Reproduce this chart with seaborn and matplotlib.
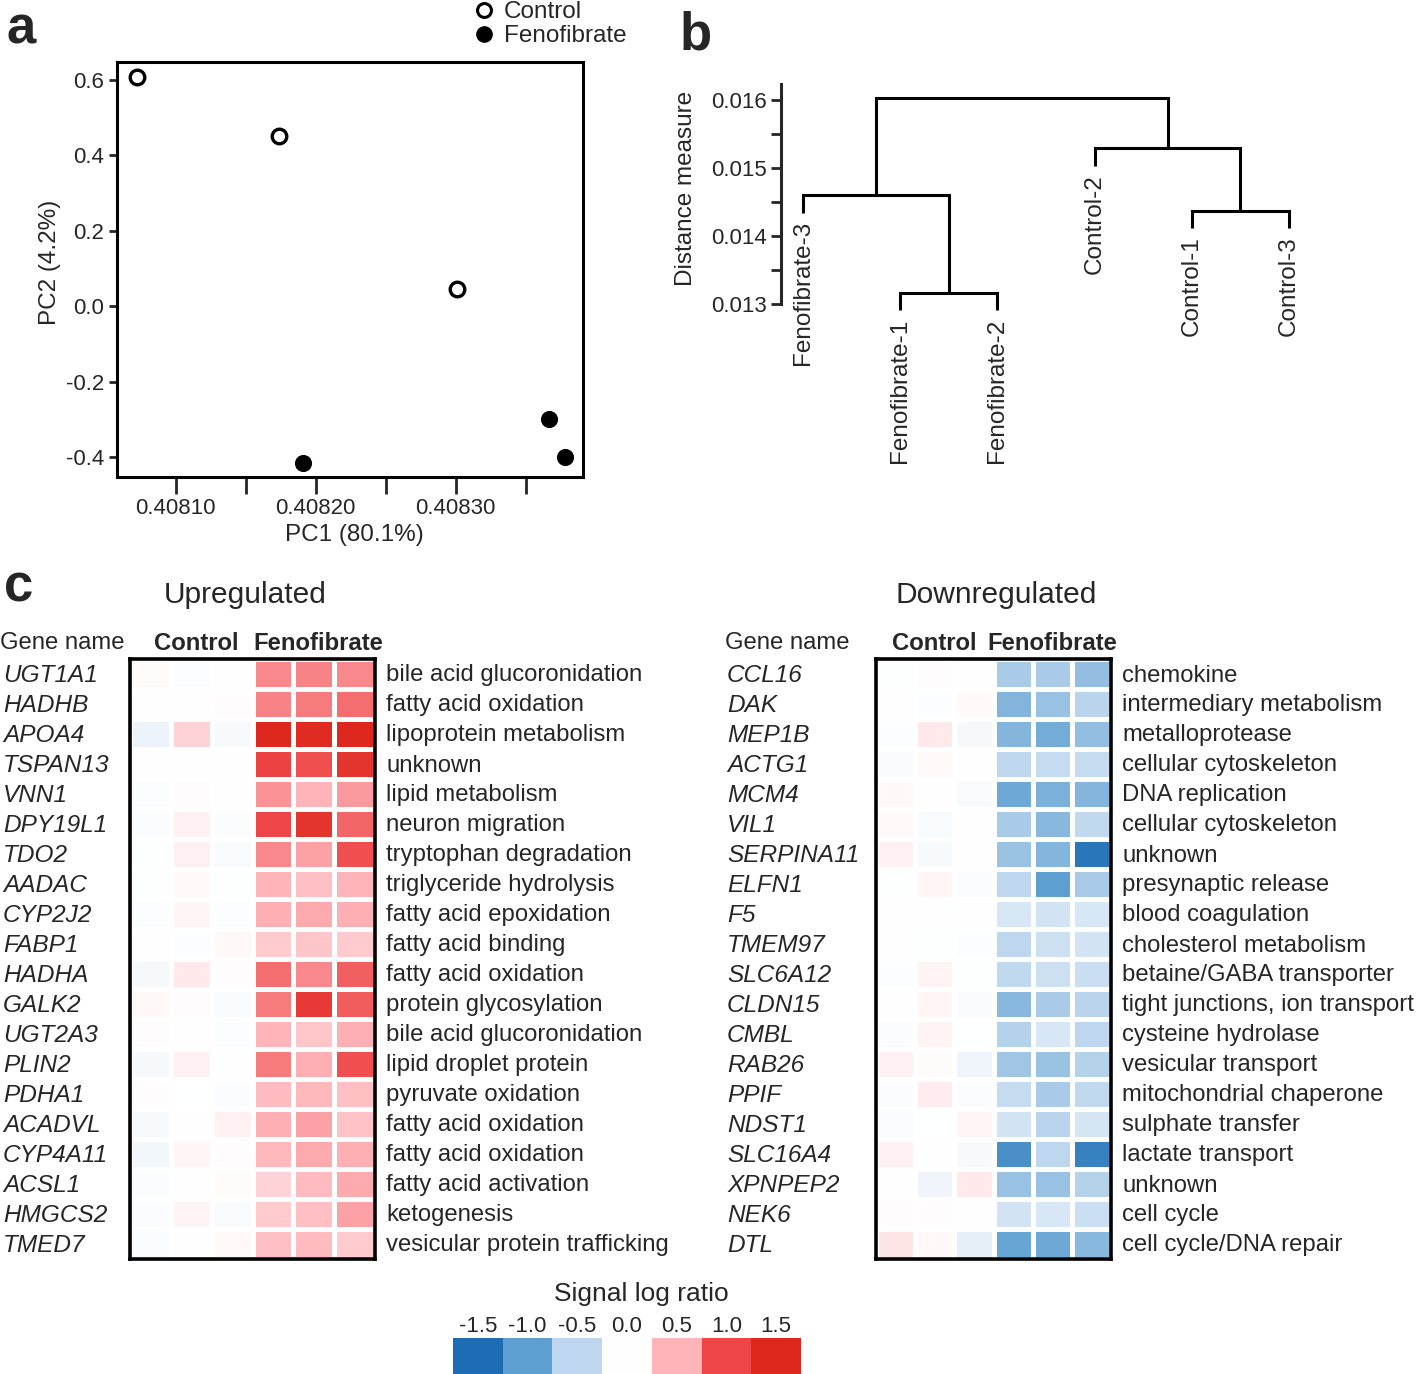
import numpy as np
import pandas as pd
import seaborn as sns
import matplotlib.pyplot as plt
import matplotlib.transforms as mtransforms
from matplotlib.colors import LinearSegmentedColormap
from matplotlib.lines import Line2D

sns.set_style("ticks")
plt.rcParams['font.family'] = ['Liberation Sans', 'DejaVu Sans']

W, H = 1416, 1374

# --- panel a: PCA ---
pc1_control = [0.408072, 0.408174, 0.408301]
pc2_control = [0.608, 0.451, 0.046]
pc1_feno = [0.408191, 0.408367, 0.408378]
pc2_feno = [-0.416, -0.299, -0.400]

# --- panel b: dendrogram ---
leaf_labels = ["Fenofibrate-3", "Fenofibrate-1", "Fenofibrate-2",
               "Control-2", "Control-1", "Control-3"]
# merges like a linkage table: node ids 0..5 are leaves, 6.. new clusters
merge_left = [1, 0, 4, 3, 7]
merge_right = [2, 6, 5, 8, 9]
merge_height = [0.013162, 0.014603, 0.014368, 0.015294, 0.016029]

# --- panel c: heatmaps ---
sample_cols = ["C1", "C2", "C3", "F1", "F2", "F3"]

up_genes = ["UGT1A1", "HADHB", "APOA4", "TSPAN13", "VNN1", "DPY19L1", "TDO2",
            "AADAC", "CYP2J2", "FABP1", "HADHA", "GALK2", "UGT2A3", "PLIN2",
            "PDHA1", "ACADVL", "CYP4A11", "ACSL1", "HMGCS2", "TMED7"]
up_function = ["bile acid glucoronidation", "fatty acid oxidation",
               "lipoprotein metabolism", "unknown", "lipid metabolism",
               "neuron migration", "tryptophan degradation",
               "triglyceride hydrolysis", "fatty acid epoxidation",
               "fatty acid binding", "fatty acid oxidation",
               "protein glycosylation", "bile acid glucoronidation",
               "lipid droplet protein", "pyruvate oxidation",
               "fatty acid oxidation", "fatty acid oxidation",
               "fatty acid activation", "ketogenesis",
               "vesicular protein trafficking"]
up_values = [
    [0.03, -0.03, 0.00, 0.70, 0.72, 0.70],
    [0.00, 0.00, 0.02, 0.72, 0.75, 0.82],
    [-0.15, 0.30, -0.06, 1.50, 1.45, 1.50],
    [0.01, 0.00, 0.00, 1.05, 0.95, 1.30],
    [-0.03, 0.02, 0.00, 0.65, 0.50, 0.62],
    [-0.04, 0.10, -0.04, 1.00, 1.30, 0.85],
    [-0.02, 0.10, -0.05, 0.70, 0.58, 0.95],
    [-0.02, 0.04, -0.02, 0.50, 0.42, 0.50],
    [-0.03, 0.06, -0.03, 0.52, 0.55, 0.52],
    [0.00, -0.03, 0.05, 0.35, 0.38, 0.35],
    [-0.08, 0.15, 0.02, 0.82, 0.70, 0.88],
    [0.05, 0.02, -0.05, 0.75, 1.20, 0.90],
    [0.02, 0.00, -0.03, 0.50, 0.38, 0.52],
    [-0.08, 0.10, 0.01, 0.75, 0.52, 0.95],
    [0.02, -0.01, -0.04, 0.45, 0.47, 0.43],
    [-0.06, 0.00, 0.10, 0.52, 0.58, 0.40],
    [-0.10, 0.07, 0.02, 0.47, 0.55, 0.52],
    [-0.04, 0.01, 0.03, 0.30, 0.45, 0.55],
    [-0.04, 0.08, -0.05, 0.35, 0.43, 0.58],
    [-0.04, 0.00, 0.04, 0.42, 0.45, 0.35],
]

down_genes = ["CCL16", "DAK", "MEP1B", "ACTG1", "MCM4", "VIL1", "SERPINA11",
              "ELFN1", "F5", "TMEM97", "SLC6A12", "CLDN15", "CMBL", "RAB26",
              "PPIF", "NDST1", "SLC16A4", "XPNPEP2", "NEK6", "DTL"]
down_function = ["chemokine", "intermediary metabolism", "metalloprotease",
                 "cellular cytoskeleton", "DNA replication",
                 "cellular cytoskeleton", "unknown", "presynaptic release",
                 "blood coagulation", "cholesterol metabolism",
                 "betaine/GABA transporter", "tight junctions, ion transport",
                 "cysteine hydrolase", "vesicular transport",
                 "mitochondrial chaperone", "sulphate transfer",
                 "lactate transport", "unknown", "cell cycle",
                 "cell cycle/DNA repair"]
down_values = [
    [-0.02, 0.02, 0.00, -0.60, -0.60, -0.72],
    [0.00, -0.03, 0.04, -0.82, -0.70, -0.52],
    [-0.03, 0.15, -0.08, -0.80, -0.88, -0.72],
    [-0.05, 0.04, 0.00, -0.50, -0.45, -0.45],
    [0.05, 0.00, -0.05, -0.92, -0.85, -0.80],
    [0.04, -0.05, 0.00, -0.60, -0.78, -0.48],
    [0.10, -0.07, 0.00, -0.68, -0.80, -1.40],
    [-0.02, 0.06, -0.04, -0.50, -1.00, -0.62],
    [0.00, 0.00, 0.00, -0.30, -0.35, -0.30],
    [0.00, -0.02, -0.03, -0.50, -0.38, -0.35],
    [-0.03, 0.08, -0.02, -0.48, -0.38, -0.42],
    [0.00, 0.07, -0.05, -0.78, -0.60, -0.52],
    [-0.04, 0.08, -0.01, -0.55, -0.30, -0.50],
    [0.10, 0.03, -0.12, -0.65, -0.68, -0.55],
    [-0.04, 0.12, -0.04, -0.45, -0.60, -0.48],
    [-0.04, -0.01, 0.06, -0.35, -0.52, -0.32],
    [0.10, 0.00, -0.07, -1.15, -0.50, -1.30],
    [0.00, -0.12, 0.15, -0.70, -0.70, -0.55],
    [0.02, 0.02, 0.00, -0.35, -0.30, -0.40],
    [0.18, 0.05, -0.20, -0.95, -0.92, -0.78],
]

scale_values = [-1.5, -1.0, -0.5, 0.0, 0.5, 1.0, 1.5]
scale_colors = ["#1e6cb4", "#5fa0d2", "#bed7ee", "#ffffff",
                "#ffb4b9", "#ee4646", "#de281e"]

cmap = LinearSegmentedColormap.from_list(
    "slr", [((v + 1.5) / 3.0, c) for v, c in zip(scale_values, scale_colors)])


def px_axes(fig, x0, y0, x1, y1):
    return fig.add_axes([x0 / W, 1 - y1 / H, (x1 - x0) / W, (y1 - y0) / H])


fig = plt.figure(figsize=(W / 100, H / 100), dpi=100)
FS = 16      # tick labels
FS_L = 17.5  # axis labels, legend

# ---------------- panel a ----------------
ax = px_axes(fig, 117, 62, 583, 477)
sns.scatterplot(x=pc1_control, y=pc2_control, ax=ax, s=110, marker="o",
                facecolor="white", edgecolor="black", linewidth=2.4, zorder=3)
sns.scatterplot(x=pc1_feno, y=pc2_feno, ax=ax, s=130, marker="o",
                color="black", edgecolor="black", zorder=3)
ax.set_xlim(0.408058, 0.408391)
ax.set_ylim(-0.453, 0.648)
ax.set_xticks([0.40810, 0.40815, 0.40820, 0.40825, 0.40830, 0.40835])
ax.set_xticklabels(["0.40810", "", "0.40820", "", "0.40830", ""], fontsize=FS)
ax.set_yticks([-0.4, -0.2, 0.0, 0.2, 0.4, 0.6])
ax.set_yticklabels(["-0.4", "-0.2", "0.0", "0.2", "0.4", "0.6"], fontsize=FS)
ax.tick_params(axis="x", direction="out", length=12, width=2, pad=3)
ax.tick_params(axis="y", direction="out", length=6, width=2, pad=3)
for s in ax.spines.values():
    s.set_linewidth(2.2)
    s.set_color("black")
fig.text(354 / W, 1 - 535 / H, "PC1 (80.1%)", ha="center", va="center", fontsize=FS_L)
fig.text(50 / W, 1 - 262 / H, "PC2 (4.2%)", ha="center", va="center",
         rotation=90, fontsize=FS_L)
handles = [
    Line2D([], [], marker="o", ls="none", mfc="white", mec="black", mew=2.2, ms=10),
    Line2D([], [], marker="o", ls="none", mfc="black", mec="black", ms=11),
]
fig.legend(handles, ["Control", "Fenofibrate"], loc="upper left",
           bbox_to_anchor=(472 / W, 1 - 1 / H), frameon=False, fontsize=FS_L,
           borderpad=0, borderaxespad=0, labelspacing=0.1,
           handletextpad=0.3, handlelength=1.0)

# ---------------- panel b ----------------
axb = px_axes(fig, 781, 84, 1400, 470)
n_leaves = len(leaf_labels)
tip = 0.00026
node_x = {i: float(i + 1) for i in range(n_leaves)}
node_h = {}
parent_h = {}
for l, r, h in zip(merge_left, merge_right, merge_height):
    parent_h[l] = h
    parent_h[r] = h
for k, (l, r, h) in enumerate(zip(merge_left, merge_right, merge_height)):
    nid = n_leaves + k
    node_x[nid] = (node_x[l] + node_x[r]) / 2
    node_h[nid] = h
for i in range(n_leaves):
    node_h[i] = parent_h[i] - tip
for l, r, h in zip(merge_left, merge_right, merge_height):
    axb.plot([node_x[l], node_x[l], node_x[r], node_x[r]],
             [node_h[l], h, h, node_h[r]], color="black", lw=2.2,
             solid_capstyle="butt", solid_joinstyle="miter")
for i, lab in enumerate(leaf_labels):
    axb.text(node_x[i], node_h[i] - 0.00012, lab, rotation=90, ha="center",
             va="top", fontsize=FS_L)
axb.set_xlim(1 - 22 / 97.2, 1 + (1400 - 803) / 97.2)
axb.set_ylim(0.010544, 0.01624)
axb.set_yticks([0.013, 0.014, 0.015, 0.016])
axb.set_yticklabels(["0.013", "0.014", "0.015", "0.016"], fontsize=FS)
axb.set_yticks([0.0135, 0.0145, 0.0155], minor=True)
axb.tick_params(axis="y", which="both", direction="out", length=7, width=2, pad=3)
axb.set_xticks([])
for s in ["top", "right", "bottom"]:
    axb.spines[s].set_visible(False)
axb.spines["left"].set_linewidth(2.2)
axb.spines["left"].set_bounds(0.013, 0.01624)
fig.text(686 / W, 1 - 188 / H, "Distance measure", ha="center", va="center",
         rotation=90, fontsize=FS_L)

# ---------------- panel c ----------------
FS_C = 17.2


def draw_heat(x0, x1, values, genes, functions, gene_x, func_x, hdr_x,
              hdr_shift, title, title_x):
    axh = px_axes(fig, x0, 659, x1, 1259)
    df = pd.DataFrame(values, index=genes, columns=sample_cols)
    sns.heatmap(df, ax=axh, cmap=cmap, vmin=-1.5, vmax=1.5, cbar=False,
                linewidths=2.2, linecolor="white",
                xticklabels=False, yticklabels=False)
    for s in axh.spines.values():
        s.set_visible(True)
        s.set_linewidth(2.6)
        s.set_color("black")
    axh.set_xlabel("")
    axh.set_ylabel("")
    tr = mtransforms.blended_transform_factory(fig.transFigure, axh.transData)
    for i, (g, f) in enumerate(zip(genes, functions)):
        axh.text(gene_x / W, i + 0.55, g, transform=tr, ha="left", va="center",
                 fontsize=17.6, style="italic")
        axh.text(func_x / W, i + 0.55, f, transform=tr, ha="left", va="center",
                 fontsize=FS_C)
    axh.text(hdr_x / W, -0.52, "Gene name", transform=tr, ha="left",
             va="center", fontsize=FS_C)
    axh.text(1.5 + hdr_shift, -0.52, "Control", ha="center", va="center",
             fontsize=FS_C, fontweight="bold")
    axh.text(4.5 + hdr_shift, -0.52, "Fenofibrate", ha="center", va="center",
             fontsize=FS_C, fontweight="bold")
    fig.text(title_x / W, 1 - 595 / H, title, ha="center", va="center", fontsize=21.5)


draw_heat(130, 375, up_values, up_genes, up_function, 3, 386, 0, 0.12,
          "Upregulated", 245)
draw_heat(876, 1111, down_values, down_genes, down_function, 727, 1122, 725, 0.0,
          "Downregulated", 996)

# colour scale
axs = px_axes(fig, 453, 1338, 801, 1374)
sns.heatmap(pd.DataFrame([scale_values]), ax=axs, cmap=cmap, vmin=-1.5,
            vmax=1.5, cbar=False, xticklabels=False, yticklabels=False)
for i, v in enumerate(scale_values):
    axs.text(i + 0.5, -0.04, f"{v:.1f}", ha="center", va="bottom", fontsize=FS)
fig.text(641 / W, 1 - 1294 / H, "Signal log ratio", ha="center", va="center",
         fontsize=19)

# panel letters
fig.text(6 / W, 1 - 30 / H, "a", fontsize=38, fontweight="bold", ha="left", va="center")
fig.text(680 / W, 1 - 36 / H, "b", fontsize=38, fontweight="bold", ha="left", va="center")
fig.text(4 / W, 1 - 587 / H, "c", fontsize=38, fontweight="bold", ha="left", va="center")

fig.savefig("out.png", dpi=100)
